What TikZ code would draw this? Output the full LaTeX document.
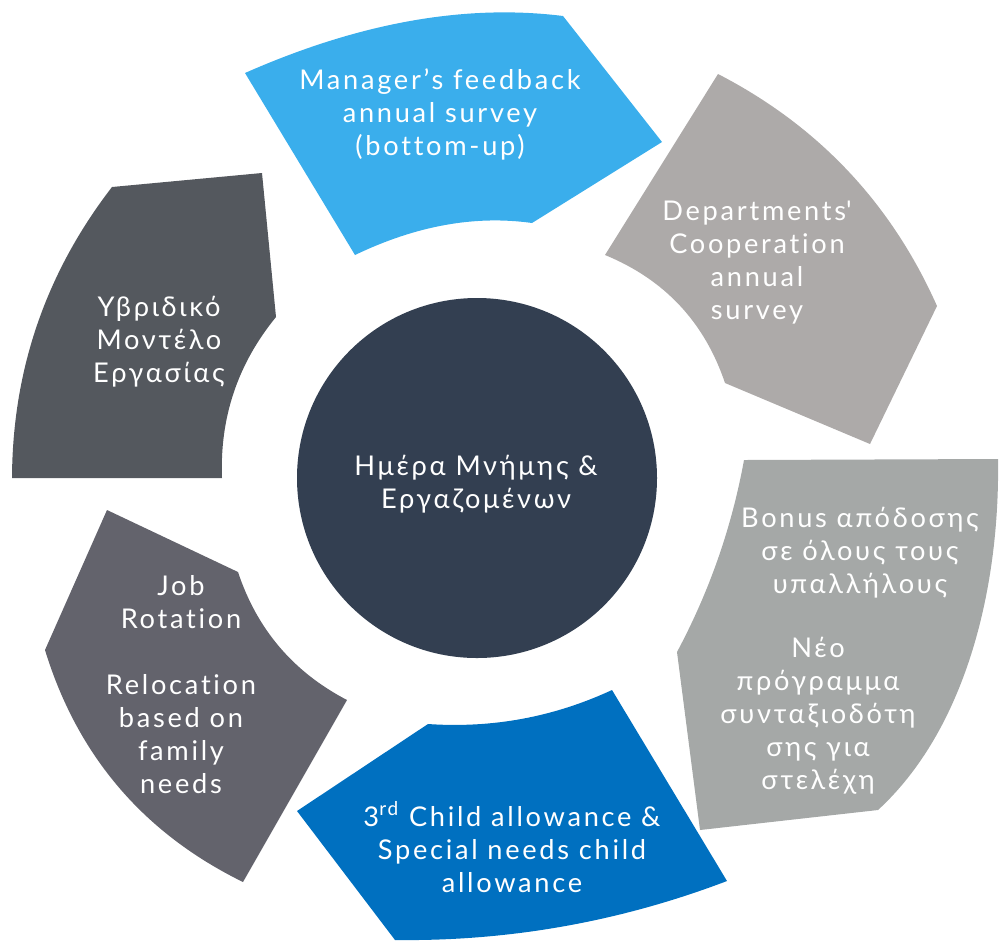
\documentclass[tikz,border=0pt]{standalone}
\usepackage{fontspec}
\setmainfont{Lato}[LetterSpace=10, Ligatures={TeX,NoCommon}]

\definecolor{segA}{RGB}{58,174,236}
\definecolor{segB}{RGB}{173,170,169}
\definecolor{segC}{RGB}{165,168,167}
\definecolor{segD}{RGB}{0,112,192}
\definecolor{segE}{RGB}{99,99,108}
\definecolor{segF}{RGB}{84,88,94}
\definecolor{hubblue}{RGB}{51,63,81}

\tikzset{
  seglabel/.style={text=white, align=center, inner sep=0pt,
    font=\fontsize{13.6}{16.5}\selectfont},
  hub/.style={circle, fill=hubblue, minimum size=180pt, inner sep=0pt}
}

\begin{document}
\begin{tikzpicture}[x=0.5pt, y=-0.5pt]
\useasboundingbox (0,0) rectangle (1000,944);

        % Les segments du cycle
        \fill[segA] (245,73) -- (355,255) .. controls (416,225.7) and (475,215) .. (532,223)
            -- (662,142) -- (563,16) .. controls (465,3.7) and (359,22.7) .. (245,73) -- cycle;
        \fill[segB] (718,74) -- (605,255) .. controls (664.5,279.4) and (704.5,322.1) .. (725,383)
            -- (870,444) -- (937,306) .. controls (891.2,203.1) and (818.2,125.7) .. (718,74) -- cycle;
        \fill[segC] (998,459) -- (744,460) .. controls (731.7,527.5) and (709.3,591.5) .. (677,652)
            -- (700,830) -- (878,810) .. controls (965,730) and (1000,590) .. (998,459) -- cycle;
        \fill[segD] (727,881) -- (612,690) .. controls (553.6,717.1) and (492.3,728.4) .. (428,724)
            -- (297,811) -- (395,940) .. controls (509.4,941.4) and (620.1,921.7) .. (727,881) -- cycle;
        \fill[segE] (243,882) -- (347,700) .. controls (293.3,672) and (257,629.3) .. (238,572)
            -- (107,510) -- (45,650) .. controls (77.5,755.9) and (143.5,833.2) .. (243,882) -- cycle;
        \fill[segF] (12,478) -- (222,478) .. controls (219.7,417.5) and (237.7,363.9) .. (276,317)
            -- (262,173) -- (112,187) .. controls (45.9,272.7) and (12.5,369.7) .. (12,478) -- cycle;

        % Le cercle central
        \node[hub] (memory) at (477,478) {};
        \node[seglabel] (memorytext) at (476,484) {Ημέρα Μνήμης \&\\Εργαζομένων};

        % Les textes
        \node[seglabel] (manager) at (440,114) {Manager’s feedback\\annual survey\\(bottom-up)};
        \node[seglabel] (dept) at (757,263) {Departments\textquotesingle\\Cooperation\\annual\\survey};
        \node[seglabel] (bonus) at (860,553) {Bonus απόδοσης\\σε όλους τους\\υπαλλήλους};
        \node[seglabel] (pension) at (818,716) {Νέο\\πρόγραμμα\\συνταξιοδότη\\σης για\\στελέχη};
        \node[seglabel] (child) at (512,847) {3\textsuperscript{rd} Child allowance \&\\Special needs child\\allowance};
        \node[seglabel] (rotation) at (181,685) {Job\\Rotation\\[16.5pt]Relocation\\based on\\family\\needs};
        \node[seglabel] (hybrid) at (159,342) {Υβριδικό\\Μοντέλο\\Εργασίας};

\end{tikzpicture}
\end{document}
